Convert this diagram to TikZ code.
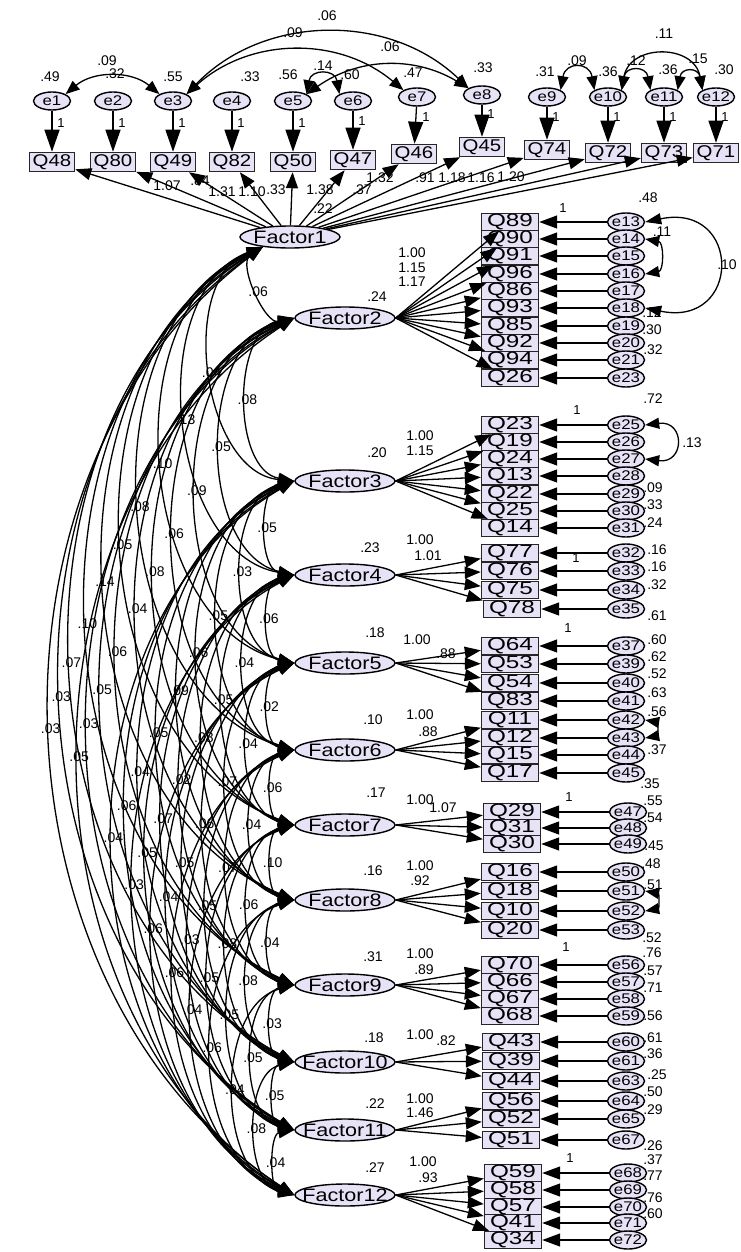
\documentclass[tikz,border=0pt]{standalone}
\usepackage{fontspec}
\setmainfont{Liberation Sans}
\newfontfamily\amosfont[FakeStretch=1.2]{Liberation Sans}
\newfontfamily\amoswide[FakeStretch=1.35]{Liberation Sans}
\usepackage{tikz}
\usetikzlibrary{positioning,shapes.geometric,arrows.meta,calc}
\definecolor{lavfill}{RGB}{232,226,247}

\begin{document}
\begin{tikzpicture}[
    x=1pt, y=-1pt,
    font=\fontsize{14}{15}\selectfont,
    line width=1.3pt,
    every node/.style={align=center},
    topbox/.style={
        rectangle,
        draw=black!85,
        line width=1.5pt,
        fill=lavfill,
        minimum width=45pt,
        minimum height=19pt,
        inner sep=0pt,
        font=\amosfont\fontsize{17}{17}\selectfont
    },
    ind/.style={
        rectangle,
        draw=black!85,
        line width=1.4pt,
        fill=lavfill,
        minimum width=57pt,
        minimum height=17pt,
        inner sep=0pt,
        font=\amoswide\fontsize{18}{18}\selectfont
    },
    err/.style={
        ellipse,
        draw=black,
        line width=1.4pt,
        fill=lavfill,
        minimum width=37pt,
        minimum height=18pt,
        inner xsep=-2pt,
        inner ysep=-2pt,
        font=\amosfont\fontsize{14}{14}\selectfont
    },
    factor/.style={
        ellipse,
        draw=black,
        line width=1.4pt,
        fill=lavfill,
        minimum width=100pt,
        minimum height=22pt,
        inner xsep=-14pt,
        inner ysep=-2pt,
        font=\amosfont\fontsize{18}{18}\selectfont
    },
    load/.style={-{Triangle[length=16pt,width=12pt]}},
    resid/.style={-{Triangle[length=18pt,width=13pt]}},
    residtop/.style={-{Triangle[length=22pt,width=15pt]}},
    cov/.style={{Triangle[length=16pt,width=11pt]}-{Triangle[length=16pt,width=11pt]}},
    covsmall/.style={{Triangle[length=14pt,width=11pt]}-{Triangle[length=14pt,width=11pt]}},
    est/.style={font=\fontsize{14}{14}\selectfont, inner sep=0.5pt},
    one/.style={font=\fontsize{13}{13}\selectfont, inner sep=0pt},
]

\useasboundingbox (0,0) rectangle (740,1252);
\clip (0,0) rectangle (740,1252);

% top row of Factor1
\node[err] (e1)  at (52,101)  {e1};
\node[err] (e2)  at (113,101) {e2};
\node[err] (e3)  at (173,101) {e3};
\node[err] (e4)  at (232,101) {e4};
\node[err] (e5)  at (293,101) {e5};
\node[err] (e6)  at (353,101) {e6};
\node[err] (e7)  at (417,97)  {e7};
\node[err] (e8)  at (482,95)  {e8};
\node[err] (e9)  at (547,97)  {e9};
\node[err] (e10) at (608,97)  {e10};
\node[err] (e11) at (664,97)  {e11};
\node[err] (e12) at (716,97)  {e12};

\node[topbox] (q48) at (52,162)  {Q48};
\node[topbox] (q80) at (113,162) {Q80};
\node[topbox] (q49) at (173,162) {Q49};
\node[topbox] (q82) at (232,162) {Q82};
\node[topbox] (q50) at (293,162) {Q50};
\node[topbox] (q47) at (353,160) {Q47};
\node[topbox] (q46) at (414,154) {Q46};
\node[topbox] (q45) at (482,147) {Q45};
\node[topbox] (q74) at (547,150) {Q74};
\node[topbox] (q72) at (608,153) {Q72};
\node[topbox] (q73) at (664,153) {Q73};
\node[topbox] (q71) at (716,153) {Q71};

\node[factor] (f1) at (290,237) {Factor1};
\node[est] (v1) at (323,209) {.22};

\draw[residtop] (e1) -- (q48);
\draw[residtop] (e2) -- (q80);
\draw[residtop] (e3) -- (q49);
\draw[residtop] (e4) -- (q82);
\draw[residtop] (e5) -- (q50);
\draw[residtop] (e6) -- (q47);
\draw[residtop] (e7) -- (q46);
\draw[residtop] (e8) -- (q45);
\draw[residtop] (e9) -- (q74);
\draw[residtop] (e10) -- (q72);
\draw[residtop] (e11) -- (q73);
\draw[residtop] (e12) -- (q71);

\node[one] (t1)  at (61,123)  {1};
\node[one] (t2)  at (122,123) {1};
\node[one] (t3)  at (182,123) {1};
\node[one] (t4)  at (241,123) {1};
\node[one] (t5)  at (302,123) {1};
\node[one] (t6)  at (362,121) {1};
\node[one] (t7)  at (426,117) {1};
\node[one] (t8)  at (491,114) {1};
\node[one] (t9)  at (556,117) {1};
\node[one] (t10) at (617,117) {1};
\node[one] (t11) at (673,117) {1};
\node[one] (t12) at (725,117) {1};

\node[est] (s1)  at (50,77)  {.49};
\node[est] (s2)  at (115,74) {.32};
\node[est] (s3)  at (173,77) {.55};
\node[est] (s4)  at (250,77) {.33};
\node[est] (s5)  at (288,75) {.56};
\node[est] (s6)  at (350,75) {.60};
\node[est] (s7)  at (413,73) {.47};
\node[est] (s8)  at (483,68) {.33};
\node[est] (s9)  at (545,72) {.31};
\node[est] (s10) at (608,72) {.36};
\node[est] (s11) at (668,70) {.36};
\node[est] (s12) at (724,70) {.30};

\draw[covsmall] (e1.north east) to[bend left=40] (e3.north west);
\draw[covsmall] (e3.north east) to[bend left=45] (e8.north west);
\draw[covsmall] (e3.north east) to[bend left=41] (e7.north west);
\draw[covsmall] (e5.north east) to[bend left=33] (e8.north west);
\draw[covsmall] (e5.north east) to[bend left=80, looseness=2] (e6.north west);
\draw[covsmall] (e9.north east) to[bend left=80, looseness=2.2] (e10.north west);
\draw[covsmall] (e10.north east) to[bend left=80, looseness=2.2] (e11.north west);
\draw[covsmall] (e11.north east) to[bend left=80, looseness=2.4] (e12.north west);
\draw[covsmall] (e10.north east) to[bend left=80, looseness=1.5] (e12.north west);

\node[est] (c1x3)   at (107,61) {.09};
\node[est] (c3x8)   at (327,16) {.06};
\node[est] (c3x7)   at (293,33) {.09};
\node[est] (c5x8)   at (390,47) {.06};
\node[est] (c5x6)   at (323,66) {.14};
\node[est] (c9x10)  at (577,61) {.09};
\node[est] (c10x11) at (636,61) {.12};
\node[est] (c11x12) at (698,59) {.15};
\node[est] (c10x12) at (664,34) {.11};

\draw[load] (f1) -- (q48);
\draw[load] (f1) -- (q80);
\draw[load] (f1) -- (q49);
\draw[load] (f1) -- (q82);
\draw[load] (f1) -- (q50);
\draw[load] (f1) -- (q47);
\draw[load] (f1) -- (q46);
\draw[load] (f1) -- (q45);
\draw[load] (f1) -- (q74);
\draw[load] (f1) -- (q72);
\draw[load] (f1) -- (q73);
\draw[load] (f1) -- (q71);

\node[est] (w1)  at (167,186) {1.07};
\node[est] (w2)  at (200,181) {.84};
\node[est] (w3)  at (222,192) {1.31};
\node[est] (w4)  at (252,192) {1.10};
\node[est] (w5)  at (276,190) {.33};
\node[est] (w6)  at (320,190) {1.38};
\node[est] (w7)  at (362,190) {.37};
\node[est] (w8)  at (380,178) {1.32};
\node[est] (w9)  at (425,178) {.91};
\node[est] (w10) at (452,178) {1.18};
\node[est] (w11) at (481,178) {1.16};
\node[est] (w12) at (511,177) {1.20};

% Factor2
\node[factor] (f2) at (345,318) {Factor2};
\node[est] (v2) at (377,297) {.24};
\node[ind] (q89) at (510,222) {Q89};
\node[ind] (q90) at (510,239) {Q90};
\node[ind] (q91) at (510,256) {Q91};
\node[ind] (q96) at (510,274) {Q96};
\node[ind] (q86) at (510,291) {Q86};
\node[ind] (q93) at (510,308) {Q93};
\node[ind] (q85) at (510,326) {Q85};
\node[ind] (q92) at (510,343) {Q92};
\node[ind] (q94) at (510,360) {Q94};
\node[ind] (q26) at (510,378) {Q26};
\node[err] (e13) at (626,222) {e13};
\node[err] (e14) at (626,239) {e14};
\node[err] (e15) at (626,256) {e15};
\node[err] (e16) at (626,274) {e16};
\node[err] (e17) at (626,291) {e17};
\node[err] (e18) at (626,308) {e18};
\node[err] (e19) at (626,326) {e19};
\node[err] (e20) at (626,343) {e20};
\node[err] (e21) at (626,360) {e21};
\node[err] (e23) at (626,378) {e23};
\draw[load] (f2.east) -- (q89);
\draw[load] (f2.east) -- (q90);
\draw[load] (f2.east) -- (q91);
\draw[load] (f2.east) -- (q96);
\draw[load] (f2.east) -- (q86);
\draw[load] (f2.east) -- (q93);
\draw[load] (f2.east) -- (q85);
\draw[load] (f2.east) -- (q92);
\draw[load] (f2.east) -- (q94);
\draw[load] (f2.east) -- (q26);
\draw[resid] (e13) -- (q89);
\draw[resid] (e14) -- (q90);
\draw[resid] (e15) -- (q91);
\draw[resid] (e16) -- (q96);
\draw[resid] (e17) -- (q86);
\draw[resid] (e18) -- (q93);
\draw[resid] (e19) -- (q85);
\draw[resid] (e20) -- (q92);
\draw[resid] (e21) -- (q94);
\draw[resid] (e23) -- (q26);
\draw[cov] (e13.east) .. controls +(97,-20) and +(97,20) .. (e18.east);
\draw[covsmall] (e14.east) to[bend left=80, looseness=1.4] (e16.east);
\node[est] (l2a) at (412,253) {1.00};
\node[est] (l2b) at (412,268) {1.15};
\node[est] (l2c) at (412,282) {1.17};
\node[one] (o2) at (563,208) {1};
\node[est] (r2a) at (648,198) {.48};
\node[est] (r2b) at (662,232) {.11};
\node[est] (r2c) at (727,265) {.10};
\node[est] (r2d) at (652,313) {.12};
\node[est] (r2e) at (652,330) {.30};
\node[est] (r2f) at (653,350) {.32};

% Factor3
\node[factor] (f3) at (345,481) {Factor3};
\node[est] (v3) at (377,453) {.20};
\node[ind] (q23) at (510,425) {Q23};
\node[ind] (q19) at (510,442) {Q19};
\node[ind] (q24) at (510,459) {Q24};
\node[ind] (q13) at (510,476) {Q13};
\node[ind] (q22) at (510,494) {Q22};
\node[ind] (q25) at (510,511) {Q25};
\node[ind] (q14) at (510,528) {Q14};
\node[err] (e25) at (626,425) {e25};
\node[err] (e26) at (626,442) {e26};
\node[err] (e27) at (626,459) {e27};
\node[err] (e28) at (626,476) {e28};
\node[err] (e29) at (626,494) {e29};
\node[err] (e30) at (626,511) {e30};
\node[err] (e31) at (626,528) {e31};
\draw[load] (f3.east) -- (q23);
\draw[load] (f3.east) -- (q19);
\draw[load] (f3.east) -- (q24);
\draw[load] (f3.east) -- (q13);
\draw[load] (f3.east) -- (q22);
\draw[load] (f3.east) -- (q25);
\draw[load] (f3.east) -- (q14);
\draw[resid] (e25) -- (q23);
\draw[resid] (e26) -- (q19);
\draw[resid] (e27) -- (q24);
\draw[resid] (e28) -- (q13);
\draw[resid] (e29) -- (q22);
\draw[resid] (e30) -- (q25);
\draw[resid] (e31) -- (q14);
\draw[covsmall] (e25.east) .. controls +(40,-5) and +(40,5) .. (e27.east);
\node[est] (l3a) at (420,436) {1.00};
\node[est] (l3b) at (420,451) {1.15};
\node[one] (o3) at (577,410) {1};
\node[est] (r3a) at (653,399) {.72};
\node[est] (r3b) at (692,443) {.13};
\node[est] (r3c) at (653,488) {.09};
\node[est] (r3d) at (653,505) {.33};
\node[est] (r3e) at (653,523) {.24};

% Factor4
\node[factor] (f4) at (345,575) {Factor4};
\node[est] (v4) at (370,548) {.23};
\node[ind] (q77) at (510,553) {Q77};
\node[ind] (q76) at (510,571) {Q76};
\node[ind] (q75) at (510,590) {Q75};
\node[ind] (q78) at (512,609) {Q78};
\node[err] (e32) at (626,553) {e32};
\node[err] (e33) at (626,571) {e33};
\node[err] (e34) at (626,590) {e34};
\node[err] (e35) at (626,609) {e35};
\draw[load] (f4.east) -- (q77);
\draw[load] (f4.east) -- (q76);
\draw[load] (f4.east) -- (q75);
\draw[load] (f4.east) -- (q78);
\draw[resid] (e32) -- (q77);
\draw[resid] (e33) -- (q76);
\draw[resid] (e34) -- (q75);
\draw[resid] (e35) -- (q78);
\node[est] (l4a) at (420,540) {1.00};
\node[est] (l4b) at (428,556) {1.01};
\node[one] (o4) at (576,558) {1};
\node[est] (r4a) at (657,550) {.16};
\node[est] (r4b) at (657,567) {.16};
\node[est] (r4c) at (657,585) {.32};
\node[est] (r4d) at (657,616) {.61};

% Factor5
\node[factor] (f5) at (345,663) {Factor5};
\node[est] (v5) at (375,633) {.18};
\node[ind] (q64) at (510,646) {Q64};
\node[ind] (q53) at (510,664) {Q53};
\node[ind] (q54) at (510,683) {Q54};
\node[ind] (q83) at (510,701) {Q83};
\node[err] (e37) at (626,646) {e37};
\node[err] (e39) at (626,664) {e39};
\node[err] (e40) at (626,683) {e40};
\node[err] (e41) at (626,701) {e41};
\draw[load] (f5.east) -- (q64);
\draw[load] (f5.east) -- (q53);
\draw[load] (f5.east) -- (q54);
\draw[load] (f5.east) -- (q83);
\draw[resid] (e37) -- (q64);
\draw[resid] (e39) -- (q53);
\draw[resid] (e40) -- (q54);
\draw[resid] (e41) -- (q83);
\node[est] (l5a) at (417,640) {1.00};
\node[est] (l5b) at (446,654) {.88};
\node[one] (o5) at (568,628) {1};
\node[est] (r5a) at (657,640) {.60};
\node[est] (r5b) at (657,657) {.62};
\node[est] (r5c) at (657,674) {.52};
\node[est] (r5d) at (657,693) {.63};

% Factor6
\node[factor] (f6) at (345,750) {Factor6};
\node[est] (v6) at (373,720) {.10};
\node[ind] (q11) at (510,720) {Q11};
\node[ind] (q12) at (510,738) {Q12};
\node[ind] (q15) at (510,755) {Q15};
\node[ind] (q17) at (510,773) {Q17};
\node[err] (e42) at (626,720) {e42};
\node[err] (e43) at (626,738) {e43};
\node[err] (e44) at (626,755) {e44};
\node[err] (e45) at (626,773) {e45};
\draw[load] (f6.east) -- (q11);
\draw[load] (f6.east) -- (q12);
\draw[load] (f6.east) -- (q15);
\draw[load] (f6.east) -- (q17);
\draw[resid] (e42) -- (q11);
\draw[resid] (e43) -- (q12);
\draw[resid] (e44) -- (q15);
\draw[resid] (e45) -- (q17);
\draw[covsmall] (e42.east) to[bend left=80, looseness=1.8] (e43.east);
\node[est] (l6a) at (420,715) {1.00};
\node[est] (l6b) at (428,732) {.88};
\node[est] (r6a) at (657,712) {.56};
\node[est] (r6b) at (657,750) {.37};

% Factor7
\node[factor] (f7) at (345,825) {Factor7};
\node[est] (v7) at (376,793) {.17};
\node[ind] (q29) at (512,812) {Q29};
\node[ind] (q31) at (512,828) {Q31};
\node[ind] (q30) at (512,844) {Q30};
\node[err] (e47) at (628,812) {e47};
\node[err] (e48) at (628,828) {e48};
\node[err] (e49) at (628,844) {e49};
\draw[load] (f7.east) -- (q29);
\draw[load] (f7.east) -- (q31);
\draw[load] (f7.east) -- (q30);
\draw[resid] (e47) -- (q29);
\draw[resid] (e48) -- (q31);
\draw[resid] (e49) -- (q30);
\node[est] (l7a) at (420,800) {1.00};
\node[est] (l7b) at (443,808) {1.07};
\node[one] (o7) at (569,797) {1};
\node[est] (r7a) at (650,784) {.35};
\node[est] (r7b) at (653,801) {.55};
\node[est] (r7c) at (653,818) {.54};
\node[est] (r7d) at (654,846) {.45};

% Factor8
\node[factor] (f8) at (345,900) {Factor8};
\node[est] (v8) at (373,871) {.16};
\node[ind] (q16) at (510,872) {Q16};
\node[ind] (q18) at (510,891) {Q18};
\node[ind] (q10) at (510,911) {Q10};
\node[ind] (q20) at (510,930) {Q20};
\node[err] (e50) at (626,872) {e50};
\node[err] (e51) at (626,891) {e51};
\node[err] (e52) at (626,911) {e52};
\node[err] (e53) at (626,930) {e53};
\draw[load] (f8.east) -- (q16);
\draw[load] (f8.east) -- (q18);
\draw[load] (f8.east) -- (q10);
\draw[load] (f8.east) -- (q20);
\draw[resid] (e50) -- (q16);
\draw[resid] (e51) -- (q18);
\draw[resid] (e52) -- (q10);
\draw[resid] (e53) -- (q20);
\draw[covsmall] (e51.east) to[bend left=80, looseness=1.8] (e52.east);
\node[est] (l8a) at (420,866) {1.00};
\node[est] (l8b) at (420,881) {.92};
\node[est] (r8a) at (651,864) {.48};
\node[est] (r8b) at (653,885) {.51};
\node[est] (r8c) at (652,938) {.52};

% Factor9
\node[factor] (f9) at (345,985) {Factor9};
\node[est] (v9) at (373,957) {.31};
\node[ind] (q70) at (510,965) {Q70};
\node[ind] (q66) at (510,982) {Q66};
\node[ind] (q67) at (510,999) {Q67};
\node[ind] (q68) at (510,1016) {Q68};
\node[err] (e56) at (626,965) {e56};
\node[err] (e57) at (626,982) {e57};
\node[err] (e58) at (626,999) {e58};
\node[err] (e59) at (626,1016) {e59};
\draw[load] (f9.east) -- (q70);
\draw[load] (f9.east) -- (q66);
\draw[load] (f9.east) -- (q67);
\draw[load] (f9.east) -- (q68);
\draw[resid] (e56) -- (q70);
\draw[resid] (e57) -- (q66);
\draw[resid] (e58) -- (q67);
\draw[resid] (e59) -- (q68);
\node[est] (l9a) at (420,954) {1.00};
\node[est] (l9b) at (424,970) {.89};
\node[one] (o9) at (566,947) {1};
\node[est] (r9a) at (652,953) {.76};
\node[est] (r9b) at (653,971) {.57};
\node[est] (r9c) at (653,988) {.71};
\node[est] (r9d) at (653,1016) {.56};

% Factor10
\node[factor] (f10) at (345,1062) {Factor10};
\node[est] (v10) at (374,1038) {.18};
\node[ind] (q43) at (511,1042) {Q43};
\node[ind] (q39) at (511,1061) {Q39};
\node[ind] (q44) at (511,1081) {Q44};
\node[err] (e60) at (626,1042) {e60};
\node[err] (e61) at (626,1061) {e61};
\node[err] (e63) at (626,1081) {e63};
\draw[load] (f10.east) -- (q43);
\draw[load] (f10.east) -- (q39);
\draw[load] (f10.east) -- (q44);
\draw[resid] (e60) -- (q43);
\draw[resid] (e61) -- (q39);
\draw[resid] (e63) -- (q44);
\node[est] (l10a) at (420,1035) {1.00};
\node[est] (l10b) at (446,1041) {.82};
\node[est] (r10a) at (653,1038) {.61};
\node[est] (r10b) at (653,1054) {.36};
\node[est] (r10c) at (657,1075) {.25};

% Factor11
\node[factor] (f11) at (345,1130) {Factor11};
\node[est] (v11) at (375,1104) {.22};
\node[ind] (q56) at (511,1101) {Q56};
\node[ind] (q52) at (511,1119) {Q52};
\node[ind] (q51) at (511,1140) {Q51};
\node[err] (e64) at (626,1101) {e64};
\node[err] (e65) at (626,1119) {e65};
\node[err] (e67) at (626,1140) {e67};
\draw[load] (f11.east) -- (q56);
\draw[load] (f11.east) -- (q52);
\draw[load] (f11.east) -- (q51);
\draw[resid] (e64) -- (q56);
\draw[resid] (e65) -- (q52);
\draw[resid] (e67) -- (q51);
\node[est] (l11a) at (420,1099) {1.00};
\node[est] (l11b) at (420,1113) {1.46};
\node[est] (r11a) at (653,1092) {.50};
\node[est] (r11b) at (653,1110) {.29};
\node[est] (r11c) at (653,1146) {.26};

% Factor12
\node[factor] (f12) at (345,1195) {Factor12};
\node[est] (v12) at (375,1168) {.27};
\node[ind] (q59) at (513,1173) {Q59};
\node[ind] (q58) at (513,1190) {Q58};
\node[ind] (q57) at (513,1207) {Q57};
\node[ind] (q41) at (513,1223) {Q41};
\node[ind] (q34) at (513,1240) {Q34};
\node[err] (e68) at (628,1173) {e68};
\node[err] (e69) at (628,1190) {e69};
\node[err] (e70) at (628,1207) {e70};
\node[err] (e71) at (628,1223) {e71};
\node[err] (e72) at (628,1240) {e72};
\draw[load] (f12.east) -- (q59);
\draw[load] (f12.east) -- (q58);
\draw[load] (f12.east) -- (q57);
\draw[load] (f12.east) -- (q41);
\draw[load] (f12.east) -- (q34);
\draw[resid] (e68) -- (q59);
\draw[resid] (e69) -- (q58);
\draw[resid] (e70) -- (q57);
\draw[resid] (e71) -- (q41);
\draw[resid] (e72) -- (q34);
\node[est] (l12a) at (423,1162) {1.00};
\node[est] (l12b) at (428,1178) {.93};
\node[one] (o12) at (570,1158) {1};
\node[est] (r12a) at (653,1160) {.37};
\node[est] (r12b) at (653,1176) {.77};
\node[est] (r12c) at (653,1198) {.76};
\node[est] (r12d) at (653,1214) {.60};

% factor covariances
\draw[cov] (f1.200) to[bend right=80] node[est] (k1x2)  {.06} (f2.west);
\draw[cov] (f1.200) to[bend right=77] node[est] (k1x3)  {.04} (f3.west);
\draw[cov] (f1.200) to[bend right=75] node[est] (k1x4)  {.13} (f4.west);
\draw[cov] (f1.200) to[bend right=72] node[est] (k1x5)  {.10} (f5.west);
\draw[cov] (f1.200) to[bend right=70] node[est] (k1x6)  {.08} (f6.west);
\draw[cov] (f1.200) to[bend right=67] node[est] (k1x7)  {.05} (f7.west);
\draw[cov] (f1.200) to[bend right=65] node[est] (k1x8)  {.14} (f8.west);
\draw[cov] (f1.200) to[bend right=62] node[est] (k1x9)  {.10} (f9.west);
\draw[cov] (f1.200) to[bend right=60] node[est] (k1x10) {.07} (f10.west);
\draw[cov] (f1.200) to[bend right=57] node[est] (k1x11) {.03} (f11.west);
\draw[cov] (f1.200) to[bend right=55] node[est] (k1x12) {.03} (f12.west);

\draw[cov] (f2.west) to[bend right=80] node[est] (k2x3)  {.08} (f3.west);
\draw[cov] (f2.west) to[bend right=77] node[est] (k2x4)  {.05} (f4.west);
\draw[cov] (f2.west) to[bend right=75] node[est] (k2x5)  {.09} (f5.west);
\draw[cov] (f2.west) to[bend right=72] node[est] (k2x6)  {.06} (f6.west);
\draw[cov] (f2.west) to[bend right=70] node[est] (k2x7)  {.08} (f7.west);
\draw[cov] (f2.west) to[bend right=67] node[est] (k2x8)  {.04} (f8.west);
\draw[cov] (f2.west) to[bend right=65] node[est] (k2x9)  {.06} (f9.west);
\draw[cov] (f2.west) to[bend right=62] node[est] (k2x10) {.05} (f10.west);
\draw[cov] (f2.west) to[bend right=60] node[est] (k2x11) {.03} (f11.west);
\draw[cov] (f2.west) to[bend right=57] node[est] (k2x12) {.05} (f12.west);

\draw[cov] (f3.west) to[bend right=80] node[est] (k3x4)  {.05} (f4.west);
\draw[cov] (f3.west) to[bend right=77] node[est] (k3x5)  {.03} (f5.west);
\draw[cov] (f3.west) to[bend right=75] node[est] (k3x6)  {.05} (f6.west);
\draw[cov] (f3.west) to[bend right=72] node[est] (k3x7)  {.06} (f7.west);
\draw[cov] (f3.west) to[bend right=70] node[est] (k3x8)  {.09} (f8.west);
\draw[cov] (f3.west) to[bend right=67] node[est] (k3x9)  {.05} (f9.west);
\draw[cov] (f3.west) to[bend right=65] node[est] (k3x10) {.04} (f10.west);
\draw[cov] (f3.west) to[bend right=62] node[est] (k3x11) {.06} (f11.west);
\draw[cov] (f3.west) to[bend right=60] node[est] (k3x12) {.04} (f12.west);

\draw[cov] (f4.west) to[bend right=80] node[est] (k4x5)  {.06} (f5.west);
\draw[cov] (f4.west) to[bend right=77] node[est] (k4x6)  {.04} (f6.west);
\draw[cov] (f4.west) to[bend right=75] node[est] (k4x7)  {.05} (f7.west);
\draw[cov] (f4.west) to[bend right=72] node[est] (k4x8)  {.08} (f8.west);
\draw[cov] (f4.west) to[bend right=70] node[est] (k4x9)  {.02} (f9.west);
\draw[cov] (f4.west) to[bend right=67] node[est] (k4x10) {.07} (f10.west);
\draw[cov] (f4.west) to[bend right=65] node[est] (k4x11) {.05} (f11.west);
\draw[cov] (f4.west) to[bend right=62] node[est] (k4x12) {.03} (f12.west);

\draw[cov] (f5.west) to[bend right=80] node[est] (k5x6)  {.02} (f6.west);
\draw[cov] (f5.west) to[bend right=77] node[est] (k5x7)  {.04} (f7.west);
\draw[cov] (f5.west) to[bend right=75] node[est] (k5x8)  {.07} (f8.west);
\draw[cov] (f5.west) to[bend right=72] node[est] (k5x9)  {.06} (f9.west);
\draw[cov] (f5.west) to[bend right=70] node[est] (k5x10) {.05} (f10.west);
\draw[cov] (f5.west) to[bend right=67] node[est] (k5x11) {.04} (f11.west);
\draw[cov] (f5.west) to[bend right=65] node[est] (k5x12) {.06} (f12.west);

\draw[cov] (f6.west) to[bend right=80] node[est] (k6x7)  {.06} (f7.west);
\draw[cov] (f6.west) to[bend right=77] node[est] (k6x8)  {.04} (f8.west);
\draw[cov] (f6.west) to[bend right=75] node[est] (k6x9)  {.07} (f9.west);
\draw[cov] (f6.west) to[bend right=72] node[est] (k6x10) {.05} (f10.west);
\draw[cov] (f6.west) to[bend right=70] node[est] (k6x11) {.03} (f11.west);
\draw[cov] (f6.west) to[bend right=67] node[est] (k6x12) {.06} (f12.west);

\draw[cov] (f7.west) to[bend right=80] node[est] (k7x8)  {.10} (f8.west);
\draw[cov] (f7.west) to[bend right=77] node[est] (k7x9)  {.06} (f9.west);
\draw[cov] (f7.west) to[bend right=75] node[est] (k7x10) {.08} (f10.west);
\draw[cov] (f7.west) to[bend right=72] node[est] (k7x11) {.05} (f11.west);
\draw[cov] (f7.west) to[bend right=70] node[est] (k7x12) {.04} (f12.west);

\draw[cov] (f8.west) to[bend right=80] node[est] (k8x9)  {.04} (f9.west);
\draw[cov] (f8.west) to[bend right=77] node[est] (k8x10) {.08} (f10.west);
\draw[cov] (f8.west) to[bend right=75] node[est] (k8x11) {.05} (f11.west);
\draw[cov] (f8.west) to[bend right=72] node[est] (k8x12) {.06} (f12.west);

\draw[cov] (f9.west) to[bend right=80] node[est] (k9x10) {.03} (f10.west);
\draw[cov] (f9.west) to[bend right=77] node[est] (k9x11) {.05} (f11.west);
\draw[cov] (f9.west) to[bend right=75] node[est] (k9x12) {.04} (f12.west);

\draw[cov] (f10.west) to[bend right=80] node[est] (k10x11) {.05} (f11.west);
\draw[cov] (f10.west) to[bend right=77] node[est] (k10x12) {.08} (f12.west);

\draw[cov] (f11.west) to[bend right=80] node[est] (k11x12) {.04} (f12.west);

\end{tikzpicture}
\end{document}
